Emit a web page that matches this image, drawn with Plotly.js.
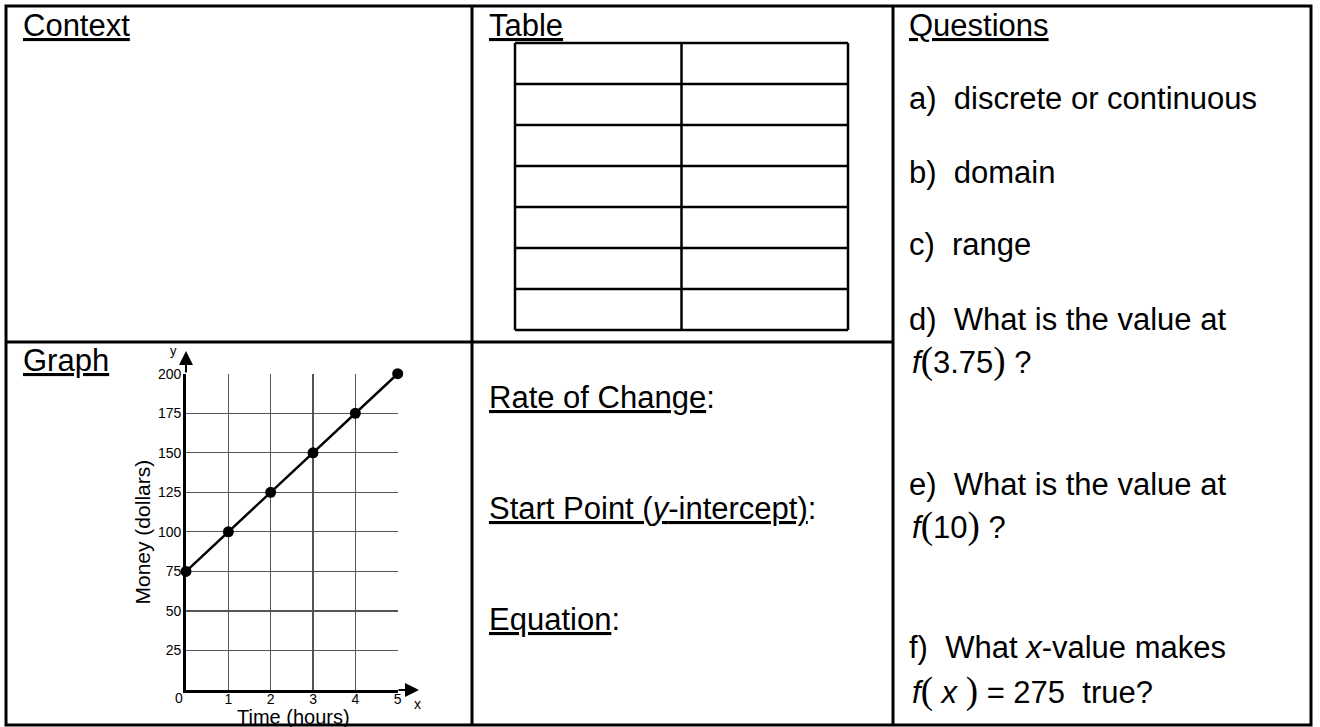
<!DOCTYPE html>
<html>
<head>
<meta charset="utf-8">
<script src="https://cdn.plot.ly/plotly-3.0.1.min.js"></script>
<style>
  html, body { margin: 0; padding: 0; background: #fff; }
</style>
</head>
<body>
<div id="myDiv"></div>
<script>
// graph data
const hours = [0, 1, 2, 3, 4, 5];
const money = [75, 100, 125, 150, 175, 200];
const xTicks = [1, 2, 3, 4, 5];
const yTicks = [25, 50, 75, 100, 125, 150, 175, 200];
const xTitle = 'Time (hours)';
const yTitle = 'Money (dollars)';

// worksheet text
const headers = ['Context', 'Table', 'Questions', 'Graph'];
const prompts = ['Rate of Change', 'Start Point (<i>y</i>-intercept)', 'Equation'];
const tableRows = 7;
const tableCols = 2;

const W = 1320, H = 727;
const px = x => x / W;
const py = y => 1 - y / H;

const paren = c => '<span style="font-family:Liberation Serif;font-size:37px">' + c + '</span>';

const questions = [
    'a)  discrete or continuous',
    'b)  domain',
    'c)  range',
    'd)  What is the value at',
    '<i>f</i>' + paren('(') + '3.75' + paren(')') + ' ?',
    'e)  What is the value at',
    '<i>f</i>' + paren('(') + '10' + paren(')') + ' ?',
    'f)  What <i>x</i>-value makes',
    '<i>f</i>' + paren('(') + ' <i>x</i> ' + paren(')') + ' = 275  true?'
];

// text placed by its baseline
const label = (text, x, baseline, size) => ({
    text: text,
    x: px(x), y: py(baseline - 0.3465 * size),
    xref: 'paper', yref: 'paper',
    xanchor: 'left', yanchor: 'middle',
    showarrow: false,
    font: { size: size }
});

// small centred text
const mark = (text, x, y, size, angle) => ({
    text: text,
    x: px(x), y: py(y),
    xref: 'paper', yref: 'paper',
    xanchor: 'center', yanchor: 'middle',
    textangle: angle || 0,
    showarrow: false,
    font: { size: size }
});

const arrow = (x, y, ax, ay) => ({
    x: px(x), y: py(y), ax: ax, ay: ay,
    xref: 'paper', yref: 'paper',
    text: '', showarrow: true,
    arrowhead: 2, arrowsize: 1.4, arrowwidth: 2, arrowcolor: 'black'
});

const line = (x0, y0, x1, y1, w) => ({
    type: 'line', xref: 'paper', yref: 'paper',
    x0: px(x0), y0: py(y0), x1: px(x1), y1: py(y1),
    line: { color: 'black', width: w }
});

const getShapes = () => {
    const shapes = [
        { type: 'rect', xref: 'paper', yref: 'paper',
          x0: px(6), y0: py(725), x1: px(1311), y1: py(6),
          line: { color: 'black', width: 3 } },
        line(472, 6, 472, 725, 3),
        line(893, 6, 893, 725, 3),
        line(6, 342, 893, 342, 3)
    ];
    // blank table
    const tx0 = 515, tx1 = 848, ty0 = 43, ty1 = 330;
    const rowH = (ty1 - ty0) / tableRows;
    const colW = (tx1 - tx0) / tableCols;
    for (let r = 0; r <= tableRows; r++) {
        shapes.push(line(tx0, ty0 + r * rowH, tx1, ty0 + r * rowH, 2.5));
    }
    for (let c = 0; c <= tableCols; c++) {
        shapes.push(line(tx0 + c * colW, ty0, tx0 + c * colW, ty1, 2.5));
    }
    return shapes;
};

const getAnnotations = () => {
    const size = 31;
    const notes = [
        label('<u>' + headers[0] + '</u>', 21, 36, size),
        label('<u>' + headers[1] + '</u>', 487, 36, size),
        label('<u>' + headers[2] + '</u>', 907, 36, size),
        label('<u>' + headers[3] + '</u>', 21, 371, size)
    ];
    const promptBase = [408, 519, 630];
    prompts.forEach((p, i) => notes.push(label('<u>' + p + '</u>:', 487, promptBase[i], size)));

    const qBase = [109, 183, 255, 330, 372, 495, 537, 658, 702];
    questions.forEach((q, i) => {
        const indent = q.startsWith('<i>f') ? 910 : 907;
        notes.push(label(q, indent, qBase[i], size));
    });

    // axis arrows, letters and titles
    notes.push(arrow(186, 351, 0, 23));
    notes.push(arrow(419, 690, -22, 0));
    notes.push(mark('y', 173, 350, 13));
    notes.push(mark('x', 417, 704, 14));
    notes.push(mark('0', 179, 698, 14));
    notes.push(mark(xTitle, 293, 717, 20));
    notes.push(mark(yTitle, 141.5, 532, 21, -90));
    return notes;
};

const data = [{
    x: hours,
    y: money,
    type: 'scatter',
    mode: 'lines+markers',
    line: { color: 'black', width: 2.5 },
    marker: { color: 'black', size: 11 },
    cliponaxis: false,
    hoverinfo: 'skip',
    showlegend: false
}];

const axisStyle = {
    showgrid: true,
    gridcolor: '#555555',
    gridwidth: 1.2,
    showline: true,
    linecolor: 'black',
    linewidth: 2.8,
    zeroline: false,
    ticks: '',
    tickfont: { size: 14 },
    fixedrange: true
};

const layout = {
    width: W,
    height: H,
    margin: { l: 0, r: 0, t: 0, b: 0 },
    paper_bgcolor: 'white',
    plot_bgcolor: 'white',
    font: { family: 'Liberation Sans, Arial, sans-serif', color: 'black' },
    xaxis: Object.assign({}, axisStyle, {
        domain: [px(186), px(397.7)],
        range: [0, 5],
        tickvals: xTicks,
        ticktext: xTicks.map(String),
        ticklabelstandoff: -6
    }),
    yaxis: Object.assign({}, axisStyle, {
        domain: [py(690), py(373.7)],
        range: [0, 200],
        tickvals: yTicks,
        ticktext: yTicks.map(String),
        ticklabelstandoff: -1
    }),
    shapes: getShapes(),
    annotations: getAnnotations()
};

Plotly.newPlot('myDiv', data, layout, { staticPlot: true });
</script>
</body>
</html>
